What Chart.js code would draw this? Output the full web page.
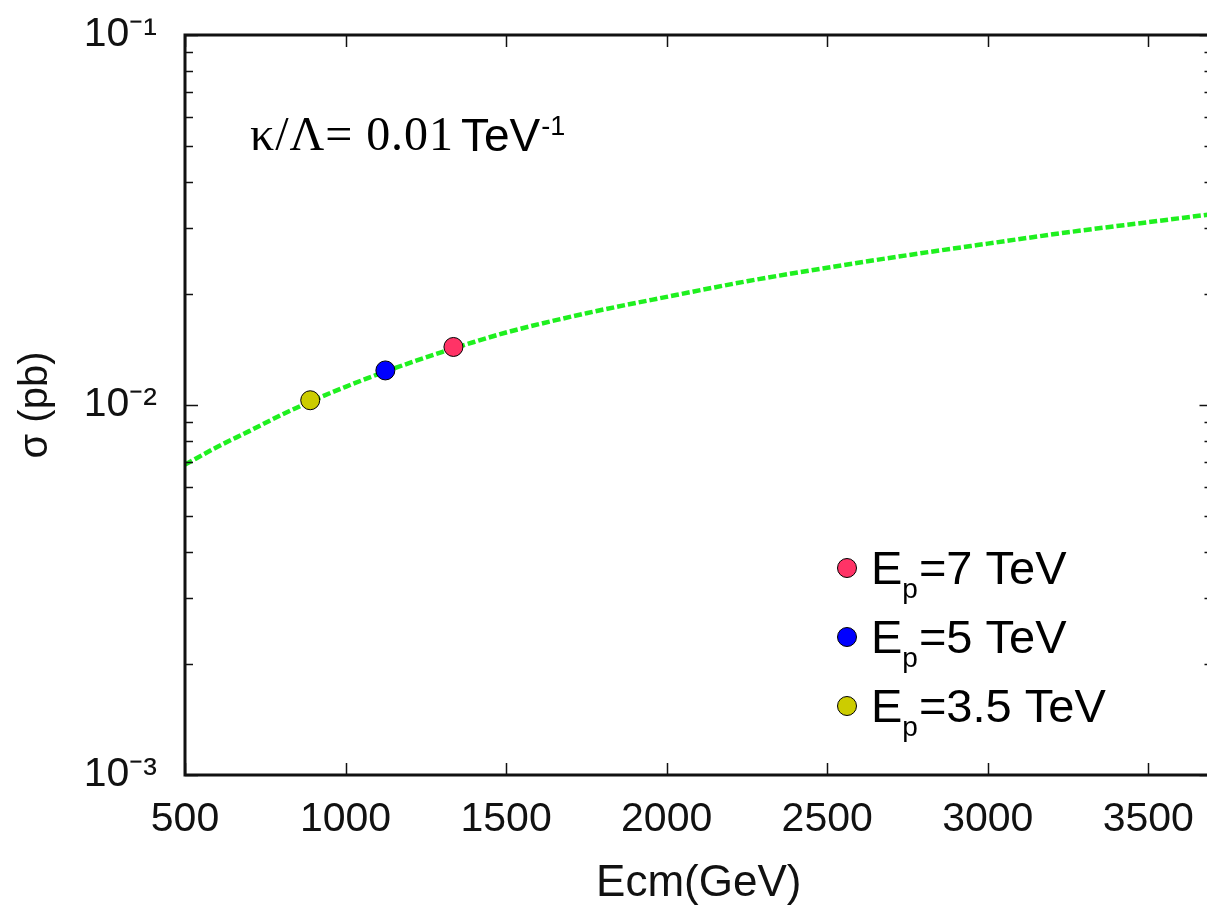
<!DOCTYPE html>
<html>
<head>
<meta charset="utf-8">
<script src="https://cdn.jsdelivr.net/npm/chart.js@4.4.1/dist/chart.umd.min.js"></script>
<style>
  html, body { margin: 0; padding: 0; background: #fff; overflow: hidden; }
  #wrap { width: 1207px; height: 906px; overflow: hidden; }
  canvas { display: block; }
</style>
</head>
<body>
<div id="wrap"><canvas id="c" width="1223" height="906"></canvas></div>
<script>
// ---- data ----
const ecm = [500, 600, 700, 800, 900, 1000, 1100, 1200, 1300, 1400, 1500, 1750, 2000, 2250, 2500, 2750, 3000, 3250, 3500, 3700];
const sigma = [0.0069, 0.0077, 0.0085, 0.0094, 0.0103, 0.0112, 0.0121, 0.0130, 0.0139, 0.0148, 0.0157, 0.0177, 0.0196, 0.0216, 0.0235, 0.0254, 0.0273, 0.0293, 0.0312, 0.0328];

const pointLabels = ['E_p=7 TeV', 'E_p=5 TeV', 'E_p=3.5 TeV'];
const pointEcm = [1336, 1124, 890];
const pointSigma = [0.01435, 0.0124, 0.0103];
const pointColors = ['#ff3366', '#0000ff', '#cccc00'];

const xTicks = [500, 1000, 1500, 2000, 2500, 3000, 3500];
const yTicks = [0.001, 0.002, 0.003, 0.004, 0.005, 0.006, 0.007, 0.008, 0.009,
                0.01, 0.02, 0.03, 0.04, 0.05, 0.06, 0.07, 0.08, 0.09, 0.1];
const yDecades = [0.001, 0.01, 0.1];
const yDecadeLabels = ['10\u207B\u00B3', '10\u207B\u00B2', '10\u207B\u00B9'];

const annotationMain = '\u03BA/\u039B= 0.01';
const annotationUnit = 'TeV';
const annotationSup = '-1';

// ---- chart ----
const datasets = [{
  label: 'sigma',
  data: ecm.map((x, i) => ({x: x, y: sigma[i]})),
  showLine: true,
  borderColor: '#1ff01f',
  borderWidth: 4.5,
  borderDash: [8, 3],
  pointRadius: 0,
  cubicInterpolationMode: 'monotone',
  fill: false,
  order: 10
}];
pointLabels.forEach((lab, i) => {
  datasets.push({
    label: lab,
    data: [{x: pointEcm[i], y: pointSigma[i]}],
    showLine: false,
    pointRadius: 9.5,
    pointBackgroundColor: pointColors[i],
    backgroundColor: pointColors[i],
    pointBorderColor: '#000',
    pointBorderWidth: 1,
    order: 0
  });
});

function isDecade(v) {
  return yDecades.some(d => Math.abs(v - d) / d < 1e-6);
}

const framePlugin = {
  id: 'frame',
  afterDatasetsDraw(chart) {
    const ctx = chart.ctx;
    const a = chart.chartArea;
    const xs = chart.scales.x, ys = chart.scales.y;
    ctx.save();
    ctx.strokeStyle = '#111';
    ctx.lineWidth = 1.5;
    ctx.beginPath();
    ys.ticks.forEach(t => {
      const py = Math.round(ys.getPixelForValue(t.value)) + 0.5;
      const len = isDecade(t.value) ? 13 : 8;
      ctx.moveTo(a.left, py); ctx.lineTo(a.left + len, py);
      ctx.moveTo(a.right, py); ctx.lineTo(a.right - len, py);
    });
    xs.ticks.forEach(t => {
      const px = Math.round(xs.getPixelForValue(t.value)) + 0.5;
      ctx.moveTo(px, a.bottom); ctx.lineTo(px, a.bottom - 12);
      ctx.moveTo(px, a.top); ctx.lineTo(px, a.top + 12);
    });
    ctx.stroke();
    ctx.lineWidth = 3;
    ctx.strokeRect(a.left, a.top, a.right - a.left, a.bottom - a.top);
    ctx.restore();
  },
  afterDraw(chart) {
    const ctx = chart.ctx;
    ctx.save();
    ctx.fillStyle = '#000';
    ctx.textBaseline = 'alphabetic';
    ctx.textAlign = 'left';

    // annotation
    ctx.font = '48px "Liberation Serif", "Times New Roman", serif';
    const targetW = 203;
    const n = annotationMain.length;
    const w0 = ctx.measureText(annotationMain).width;
    const ls = Math.max(0, (targetW - w0) / (n - 1));
    ctx.letterSpacing = ls.toFixed(2) + 'px';
    ctx.fillText(annotationMain, 250, 150);
    ctx.letterSpacing = '0px';
    ctx.font = '46px "Liberation Sans", Arial, sans-serif';
    ctx.fillText(annotationUnit, 461, 151);
    const uw = ctx.measureText(annotationUnit).width;
    ctx.font = '27px "Liberation Sans", Arial, sans-serif';
    ctx.fillText(annotationSup, 461 + uw + 1, 135);

    // legend
    const pts = chart.data.datasets.filter(d => d.showLine === false);
    pts.forEach((d, i) => {
      const cy = 568 + i * 69;
      const cx = 847;
      ctx.beginPath();
      ctx.arc(cx, cy, 9.5, 0, Math.PI * 2);
      ctx.fillStyle = d.pointBackgroundColor;
      ctx.fill();
      ctx.lineWidth = 1;
      ctx.strokeStyle = '#000';
      ctx.stroke();
      ctx.fillStyle = '#000';
      const parts = d.label.split('_');
      const base = parts[0];
      const sub = parts[1].charAt(0);
      const rest = parts[1].slice(1);
      let x = 871;
      const by = cy + 16;
      ctx.font = '47px "Liberation Sans", Arial, sans-serif';
      ctx.fillText(base, x, by);
      x += ctx.measureText(base).width;
      ctx.font = '28px "Liberation Sans", Arial, sans-serif';
      ctx.fillText(sub, x, by + 14);
      x += ctx.measureText(sub).width + 1;
      ctx.font = '47px "Liberation Sans", Arial, sans-serif';
      ctx.fillText(rest, x, by);
    });
    ctx.restore();
  }
};

new Chart(document.getElementById('c'), {
  type: 'scatter',
  data: { datasets: datasets },
  options: {
    responsive: false,
    animation: false,
    devicePixelRatio: 1,
    layout: { padding: { top: 35, right: 2, left: 0, bottom: 0 } },
    plugins: { legend: { display: false }, tooltip: { enabled: false } },
    scales: {
      x: {
        type: 'linear',
        min: 500, max: 3700,
        afterFit(s) { s.height = 131; },
        afterBuildTicks(s) { s.ticks = xTicks.map(v => ({value: v})); },
        grid: { display: false, drawTicks: false },
        border: { display: false },
        ticks: {
          autoSkip: false, maxRotation: 0, padding: 20,
          color: '#111',
          font: { family: '"Liberation Sans", Arial, sans-serif', size: 41 },
          callback: v => String(v)
        },
        title: {
          display: true, text: 'Ecm(GeV)', color: '#111',
          font: { family: '"Liberation Sans", Arial, sans-serif', size: 44 },
          padding: { top: 0, bottom: -4 }
        }
      },
      y: {
        type: 'logarithmic',
        min: 0.001, max: 0.1,
        afterFit(s) { s.width = 185; },
        afterBuildTicks(s) { s.ticks = yTicks.map(v => ({value: v})); },
        grid: { display: false, drawTicks: true, tickLength: 28 },
        border: { display: false },
        ticks: {
          autoSkip: false, padding: 0,
          color: '#111',
          font: { family: '"Liberation Sans", Arial, sans-serif', size: 41 },
          callback: v => {
            const k = yDecades.findIndex(d => Math.abs(v - d) / d < 1e-6);
            return k >= 0 ? yDecadeLabels[k] : '';
          }
        },
        title: {
          display: true, text: '\u03C3 (pb)', color: '#111',
          font: { family: '"Liberation Sans", Arial, sans-serif', size: 40 },
          padding: { top: 12, bottom: 0 }
        }
      }
    }
  },
  plugins: [framePlugin]
});
</script>
</body>
</html>
